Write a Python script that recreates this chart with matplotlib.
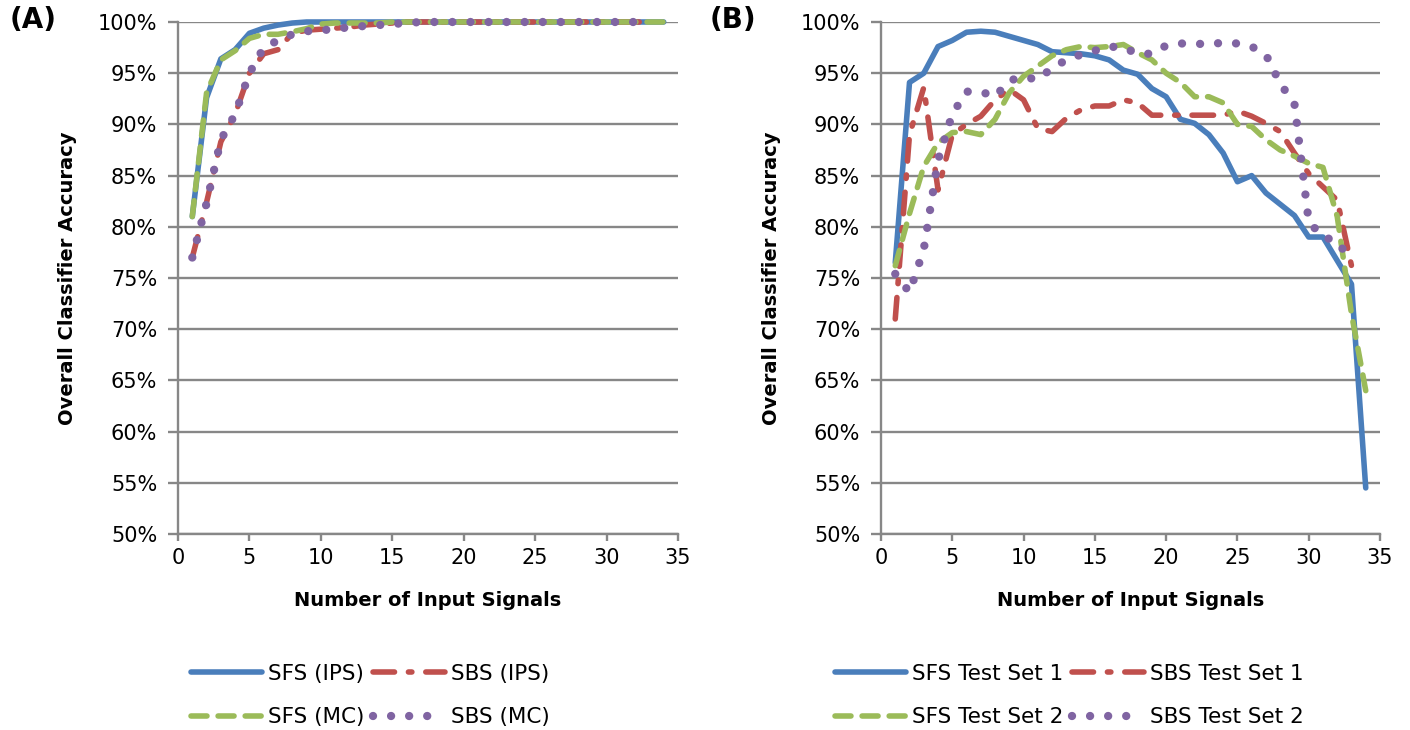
import numpy as np
import matplotlib
matplotlib.use("Agg")
import matplotlib.pyplot as plt

plt.rcParams['font.family'] = ['DejaVu Sans']
plt.rcParams['lines.scale_dashes'] = False

# ---- data (accuracy in %) ----
x_sfs = np.arange(1, 35)
x_sbs = np.arange(1, 34)

# panel A
sfs_ips = [81.0, 92.6, 96.4, 97.3, 98.9, 99.4, 99.7, 99.9, 100, 100,
           100, 100, 100, 100, 100, 100, 100, 100, 100, 100,
           100, 100, 100, 100, 100, 100, 100, 100, 100, 100,
           100, 100, 100, 100]
sbs_ips = [77.0, 82.4, 88.3, 91.0, 95.0, 96.9, 97.3, 98.9, 99.2, 99.3,
           99.4, 99.5, 99.7, 99.8, 99.9, 100, 100, 100, 100, 100,
           100, 100, 100, 100, 100, 100, 100, 100, 100, 100,
           100, 100, 100]
sfs_mc = [81.0, 93.1, 96.3, 97.2, 98.4, 98.8, 98.8, 99.05, 99.35, 99.8,
          99.9, 99.9, 99.9, 99.9, 100, 100, 100, 100, 100, 100,
          100, 100, 100, 100, 100, 100, 100, 100, 100, 100,
          100, 100, 100, 100]
sbs_mc = [77.0, 82.3, 88.5, 91.0, 95.0, 97.5, 98.2, 98.8, 99.1, 99.2,
          99.3, 99.5, 99.6, 99.7, 99.8, 99.9, 100, 100, 100, 100,
          100, 100, 100, 100, 100, 100, 100, 100, 100, 100,
          100, 100, 100]

# panel B
sfs_t1 = [76.5, 94.1, 95.0, 97.6, 98.2, 99.0, 99.1, 99.0, 98.6, 98.2,
          97.8, 97.1, 97.0, 96.9, 96.7, 96.3, 95.3, 94.9, 93.5, 92.7,
          90.5, 90.1, 89.0, 87.2, 84.4, 85.0, 83.3, 82.2, 81.1, 79.0,
          79.0, 76.7, 74.4, 54.5]
sbs_t1 = [71.0, 89.0, 93.6, 83.6, 89.0, 90.0, 90.8, 92.4, 93.4, 92.4,
          89.6, 89.3, 90.6, 91.4, 91.8, 91.8, 92.4, 92.1, 90.9, 90.9,
          90.9, 90.9, 90.9, 90.9, 91.3, 90.8, 90.1, 89.3, 87.2, 85.2,
          83.9, 82.6, 76.2]
sfs_t2 = [76.2, 81.3, 85.9, 88.2, 89.2, 89.3, 89.0, 90.5, 93.1, 94.7,
          95.7, 96.7, 97.3, 97.6, 97.5, 97.6, 97.8, 97.0, 96.3, 95.0,
          94.1, 92.7, 92.7, 92.1, 90.0, 89.8, 88.5, 87.5, 86.9, 86.2,
          85.8, 81.0, 71.5, 64.0]
sbs_t2 = [75.4, 73.6, 77.8, 86.5, 91.0, 93.2, 93.2, 92.7, 94.3, 94.6,
          94.4, 95.5, 96.3, 96.8, 97.2, 97.6, 97.5, 96.9, 96.9, 97.7,
          97.9, 97.9, 97.8, 98.0, 97.9, 97.6, 96.8, 94.0, 92.0, 80.5,
          79.0, 78.6, 76.6]

labels_a = ['SFS (IPS)', 'SBS (IPS)', 'SFS (MC)', 'SBS (MC)']
labels_b = ['SFS Test Set 1', 'SBS Test Set 1', 'SFS Test Set 2', 'SBS Test Set 2']

blue, red, green, purple = '#4A7EBB', '#C0504D', '#9BBB59', '#8064A2'
grey = '#878787'

styles = [
    dict(color=blue, lw=4.0, solid_capstyle='round'),
    dict(color=red, lw=4.0, dashes=(15.5, 10, 2.5, 10), dash_capstyle='round'),
    dict(color=green, lw=4.0, dashes=(11.5, 8), dash_capstyle='round'),
    dict(color=purple, lw=6.0, dashes=(0.01, 13), dash_capstyle='round'),
]

fig = plt.figure(figsize=(14.1, 7.3), dpi=100)
ax_a = fig.add_axes([178 / 1410, 1 - 534 / 730, 500 / 1410, 512 / 730])
ax_b = fig.add_axes([881 / 1410, 1 - 534 / 730, 499 / 1410, 512 / 730])


def draw(ax, series, labels, leg_x, tag, tag_x):
    xs = [x_sfs, x_sbs, x_sfs, x_sbs]
    lines = []
    for xv, yv, lab, st in zip(xs, series, labels, styles):
        ln, = ax.plot(xv, np.array(yv) / 100, label=lab, clip_on=False,
                      solid_joinstyle='round', dash_joinstyle='round', **st)
        lines.append(ln)
    ax.set_xlim(0, 35)
    ax.set_ylim(0.5, 1.0)
    ax.set_xticks(np.arange(0, 36, 5))
    ax.set_yticks(np.arange(0.5, 1.001, 0.05))
    ax.set_yticklabels(['%d%%' % v for v in range(50, 101, 5)])
    ax.grid(axis='y', color=grey, lw=1.7)
    ax.set_axisbelow(True)
    for s in ['top', 'right']:
        ax.spines[s].set_visible(False)
    for s in ['left', 'bottom']:
        ax.spines[s].set_color(grey)
        ax.spines[s].set_linewidth(1.7)
    ax.tick_params(axis='y', direction='out', length=7, width=1.7, color=grey,
                   labelsize=15, pad=8)
    ax.tick_params(axis='x', direction='out', length=5, width=1.7, color=grey,
                   labelsize=15, pad=5)
    ax.set_xlabel('Number of Input Signals', fontsize=14, fontweight='bold', va='center')
    ax.xaxis.set_label_coords(0.5, -0.13)
    ax.set_ylabel('Overall Classifier Accuracy', fontsize=14, fontweight='bold', va='center')
    ax.yaxis.set_label_coords(-0.22, 0.5)
    order = [0, 2, 1, 3]
    fig.legend([lines[i] for i in order], [labels[i] for i in order],
               loc='upper left', bbox_to_anchor=(leg_x / 1410, 1 - 664 / 730),
               ncol=2, frameon=False, fontsize=15.5, handlelength=3.3,
               handletextpad=0.3, columnspacing=0.4, labelspacing=1.08,
               borderpad=0, borderaxespad=0)
    fig.text(tag_x / 1410, 1 - 20 / 730, tag, fontsize=20, fontweight='bold',
             ha='left', va='center')


draw(ax_a, [sfs_ips, sbs_ips, sfs_mc, sbs_mc], labels_a, 191, '(A)', 10)
draw(ax_b, [sfs_t1, sbs_t1, sfs_t2, sbs_t2], labels_b, 835, '(B)', 710)

fig.savefig('out.png', dpi=100)
